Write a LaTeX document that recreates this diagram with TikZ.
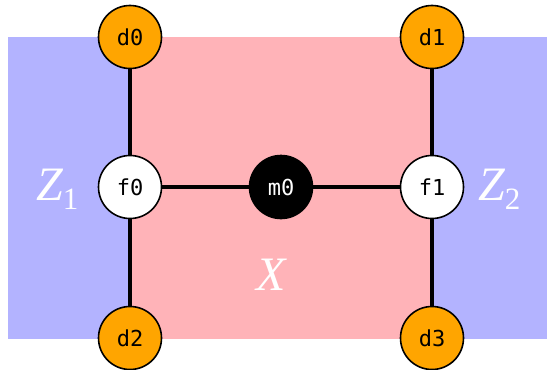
\documentclass[tikz,border=0pt]{standalone}
\usepackage{fontspec}
\newfontfamily\monofnt{DejaVu Sans Mono}
\newfontfamily\serifnt{Liberation Serif}
\definecolor{zblue}{HTML}{B3B3FF}
\definecolor{xpink}{HTML}{FFB3B8}
\definecolor{dorange}{HTML}{FFA500}
\newcommand{\regionlbl}[2]{{\serifnt\fontsize{48}{52}\selectfont\itshape #1}{\serifnt\fontsize{31}{34}\selectfont\raisebox{-9pt}{#2}}}
\begin{document}
\begin{tikzpicture}[x=1pt,y=-1pt,
  vert/.style={circle,draw=black,line width=1.6pt,minimum size=63pt,inner sep=0pt,font=\monofnt\fontsize{22}{24}\selectfont},
  dnode/.style={vert,fill=dorange,text=black},
  fnode/.style={vert,fill=white,text=black},
  mnode/.style={vert,fill=black,text=white},
  edge/.style={line width=3.2pt,black},
  region/.style={text=white,inner sep=0pt}]
\useasboundingbox (0,0) rectangle (548,369);
\fill[zblue] (8,37.5) rectangle (547,339);
\fill[xpink] (130,37.5) rectangle (432,339);
\node[dnode] (d0) at (130,37) {d0};
\node[dnode] (d1) at (432,37) {d1};
\node[fnode] (f0) at (130,187) {f0};
\node[mnode] (m0) at (281,187) {m0};
\node[fnode] (f1) at (432,187) {f1};
\node[dnode] (d2) at (130,338) {d2};
\node[dnode] (d3) at (432,338) {d3};
\draw[edge] (d0) -- (f0);
\draw[edge] (f0) -- (d2);
\draw[edge] (d1) -- (f1);
\draw[edge] (f1) -- (d3);
\draw[edge] (f0) -- (m0);
\draw[edge] (m0) -- (f1);
\node[region,anchor=base west] (z1) at (36,200) {\regionlbl{Z}{1}};
\node[region,anchor=base west] (z2) at (478,200) {\regionlbl{Z}{2}};
\node[region,anchor=base west] (x) at (256,290) {\regionlbl{X}{}};
\end{tikzpicture}
\end{document}
